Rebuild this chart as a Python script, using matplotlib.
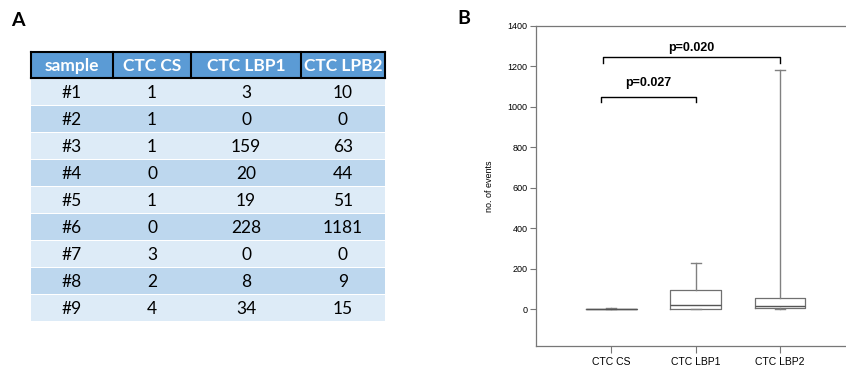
import numpy as np
import matplotlib.pyplot as plt
from matplotlib.patches import Rectangle

# table data
columns = ['sample', 'CTC CS', 'CTC LBP1', 'CTC LPB2']
samples = ['#1', '#2', '#3', '#4', '#5', '#6', '#7', '#8', '#9']
ctc_cs = [1, 1, 1, 0, 1, 0, 3, 2, 4]
ctc_lbp1 = [3, 0, 159, 20, 19, 228, 0, 8, 34]
ctc_lbp2 = [10, 0, 63, 44, 51, 1181, 0, 9, 15]

groups = ['CTC CS', 'CTC LBP1', 'CTC LBP2']
pvals = ['p=0.027', 'p=0.020']

W, H = 846, 369
fig = plt.figure(figsize=(W / 100, H / 100), dpi=100)

# ---- panel A: table drawn in pixel coords
tab = fig.add_axes([0, 0, 1, 1])
tab.set_xlim(0, W)
tab.set_ylim(H, 0)
tab.axis('off')

col_x = [31, 113, 191, 301, 385]
head_top, head_bot, row_h = 52, 78, 27.1
tfont = ['Lato', 'DejaVu Sans']
afont = ['Liberation Sans', 'DejaVu Sans']

tab.add_patch(Rectangle((col_x[0], head_top), col_x[-1] - col_x[0], head_bot - head_top,
                        facecolor='#5b9bd5', edgecolor='none'))
for x in col_x:
    tab.plot([x, x], [head_top, head_bot], color='black', lw=1.5)
tab.plot([col_x[0], col_x[-1]], [head_top, head_top], color='black', lw=1.5)
tab.plot([col_x[0], col_x[-1]], [head_bot, head_bot], color='black', lw=1.5)
for j, c in enumerate(columns):
    tab.text((col_x[j] + col_x[j + 1]) / 2, (head_top + head_bot) / 2 + 1, c,
             ha='center', va='center', color='white', fontweight='bold',
             fontsize=12.5, family=tfont)

rows = list(zip(samples, ctc_cs, ctc_lbp1, ctc_lbp2))
for i, r in enumerate(rows):
    y0 = head_bot + i * row_h
    fc = '#ddebf7' if i % 2 == 0 else '#bdd7ee'
    tab.add_patch(Rectangle((col_x[0], y0 + 0.5), col_x[-1] - col_x[0], row_h - 1,
                            facecolor=fc, edgecolor='none'))
    for j, v in enumerate(r):
        tab.text((col_x[j] + col_x[j + 1]) / 2, y0 + row_h / 2 + 1, str(v),
                 ha='center', va='center', color='black', fontsize=12.5, family=tfont)

fig.text(11 / W, 1 - 20 / H, 'A', fontsize=14, fontweight='bold', va='center',
         family=tfont)
fig.text(457 / W, 1 - 18 / H, 'B', fontsize=14, fontweight='bold', va='center',
         family=tfont)

# ---- panel B: box plot
ax = fig.add_axes([536 / W, 1 - 346 / H, 310 / W, 320 / H])
data = [ctc_cs, ctc_lbp1, ctc_lbp2]
stats = []
for d, lab in zip(data, groups):
    q1, med, q3 = np.percentile(d, [25, 50, 75], method='weibull')
    stats.append(dict(med=med, q1=q1, q3=q3, whislo=min(d), whishi=max(d),
                      fliers=[], label=lab))
gray = '#808080'
ax.bxp(stats, positions=[1, 2, 3], widths=0.6, capwidths=0.12,
       boxprops=dict(color='#707070', lw=0.9),
       whiskerprops=dict(color=gray, lw=1.0),
       capprops=dict(color=gray, lw=1.0),
       medianprops=dict(color='#555555', lw=1.0))

ax.set_xlim(0.11, 3.78)
ax.set_ylim(-182, 1400)
ax.set_yticks(range(0, 1401, 200))
for s in ['left', 'top', 'bottom']:
    ax.spines[s].set_color('#777777')
    ax.spines[s].set_linewidth(0.9)
ax.spines['right'].set_visible(False)
ax.tick_params(axis='y', labelsize=6.5, length=4, width=0.8, color='#777777', pad=2)
ax.tick_params(axis='x', labelsize=7.5, length=5, width=0.8, color='#777777', pad=3)
for t in ax.get_xticklabels() + ax.get_yticklabels():
    t.set_family(afont)
ax.set_ylabel('no. of events', fontsize=6.5, family=afont, labelpad=10)

# significance brackets
brackets = [(0.88, 2, 1050, 1025, 1118), (0.90, 3, 1245, 1215, 1292)]
for (x0, x1, y, ytip, ytxt), p in zip(brackets, pvals):
    ax.plot([x0, x0, x1, x1], [ytip, y, y, ytip], color='black', lw=1.0)
    ax.text((x0 + x1) / 2, ytxt, p, ha='center', va='center', fontsize=9,
            fontweight='bold', family=afont)

fig.savefig('out.png', dpi=100)
